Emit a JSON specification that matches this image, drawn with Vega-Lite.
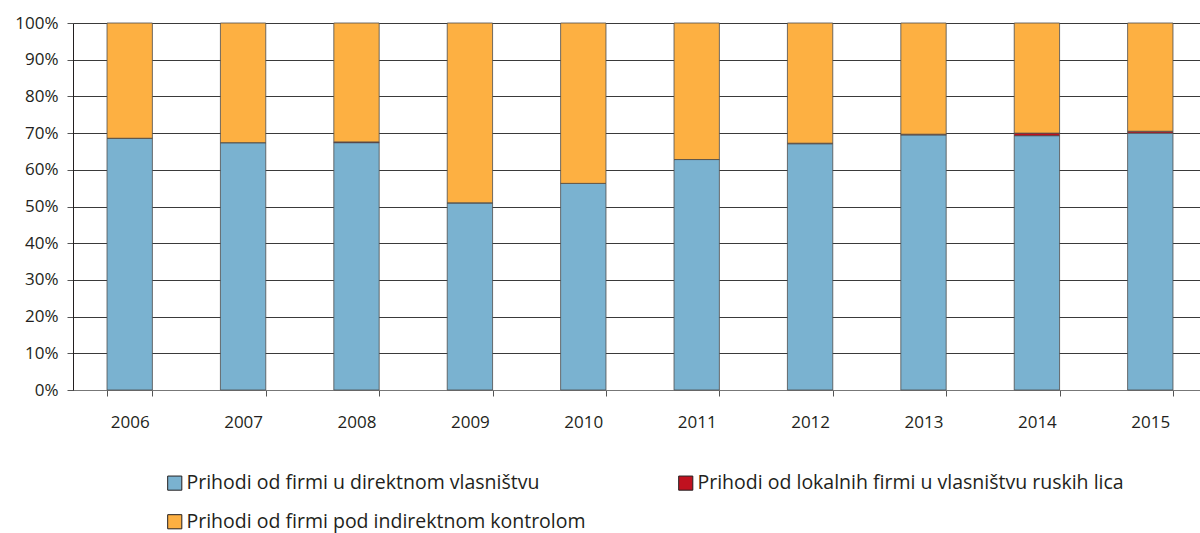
{
  "$schema": "https://vega.github.io/schema/vega-lite/v6.json",
  "width": 1134,
  "height": 367,
  "autosize": {"type": "none"},
  "padding": {"left": 73, "top": 23, "right": 0, "bottom": 143},
  "background": "white",
  "config": {
    "view": {"stroke": null},
    "font": "Open Sans",
    "axis": {"labelFont": "Open Sans", "labelFontSize": 17, "labelColor": "#231f20"},
    "legend": {"labelFont": "Open Sans", "labelFontSize": 19.5, "labelColor": "#231f20"}
  },
  "data": {
    "values": [
      {"year": "2006", "series": "Prihodi od firmi u direktnom vlasništvu", "o": 1, "v": 68.6},
      {"year": "2006", "series": "Prihodi od lokalnih firmi u vlasništvu ruskih lica", "o": 2, "v": 0.0},
      {"year": "2006", "series": "Prihodi od firmi pod indirektnom kontrolom", "o": 3, "v": 31.4},
      {"year": "2007", "series": "Prihodi od firmi u direktnom vlasništvu", "o": 1, "v": 67.4},
      {"year": "2007", "series": "Prihodi od lokalnih firmi u vlasništvu ruskih lica", "o": 2, "v": 0.0},
      {"year": "2007", "series": "Prihodi od firmi pod indirektnom kontrolom", "o": 3, "v": 32.6},
      {"year": "2008", "series": "Prihodi od firmi u direktnom vlasništvu", "o": 1, "v": 67.4},
      {"year": "2008", "series": "Prihodi od lokalnih firmi u vlasništvu ruskih lica", "o": 2, "v": 0.2},
      {"year": "2008", "series": "Prihodi od firmi pod indirektnom kontrolom", "o": 3, "v": 32.4},
      {"year": "2009", "series": "Prihodi od firmi u direktnom vlasništvu", "o": 1, "v": 51.0},
      {"year": "2009", "series": "Prihodi od lokalnih firmi u vlasništvu ruskih lica", "o": 2, "v": 0.0},
      {"year": "2009", "series": "Prihodi od firmi pod indirektnom kontrolom", "o": 3, "v": 49.0},
      {"year": "2010", "series": "Prihodi od firmi u direktnom vlasništvu", "o": 1, "v": 56.3},
      {"year": "2010", "series": "Prihodi od lokalnih firmi u vlasništvu ruskih lica", "o": 2, "v": 0.0},
      {"year": "2010", "series": "Prihodi od firmi pod indirektnom kontrolom", "o": 3, "v": 43.7},
      {"year": "2011", "series": "Prihodi od firmi u direktnom vlasništvu", "o": 1, "v": 62.8},
      {"year": "2011", "series": "Prihodi od lokalnih firmi u vlasništvu ruskih lica", "o": 2, "v": 0.0},
      {"year": "2011", "series": "Prihodi od firmi pod indirektnom kontrolom", "o": 3, "v": 37.2},
      {"year": "2012", "series": "Prihodi od firmi u direktnom vlasništvu", "o": 1, "v": 67.1},
      {"year": "2012", "series": "Prihodi od lokalnih firmi u vlasništvu ruskih lica", "o": 2, "v": 0.15},
      {"year": "2012", "series": "Prihodi od firmi pod indirektnom kontrolom", "o": 3, "v": 32.75},
      {"year": "2013", "series": "Prihodi od firmi u direktnom vlasništvu", "o": 1, "v": 69.5},
      {"year": "2013", "series": "Prihodi od lokalnih firmi u vlasništvu ruskih lica", "o": 2, "v": 0.2},
      {"year": "2013", "series": "Prihodi od firmi pod indirektnom kontrolom", "o": 3, "v": 30.3},
      {"year": "2014", "series": "Prihodi od firmi u direktnom vlasništvu", "o": 1, "v": 69.3},
      {"year": "2014", "series": "Prihodi od lokalnih firmi u vlasništvu ruskih lica", "o": 2, "v": 0.7},
      {"year": "2014", "series": "Prihodi od firmi pod indirektnom kontrolom", "o": 3, "v": 30.0},
      {"year": "2015", "series": "Prihodi od firmi u direktnom vlasništvu", "o": 1, "v": 70.0},
      {"year": "2015", "series": "Prihodi od lokalnih firmi u vlasništvu ruskih lica", "o": 2, "v": 0.5},
      {"year": "2015", "series": "Prihodi od firmi pod indirektnom kontrolom", "o": 3, "v": 29.5}
    ]
  },
  "mark": {"type": "bar", "stroke": "#4d4d4d", "strokeWidth": 1, "strokeOpacity": 0.8},
  "encoding": {
    "x": {
      "field": "year", "type": "ordinal",
      "scale": {"paddingInner": 0.6, "paddingOuter": 0.3},
      "axis": {
        "title": null, "labelAngle": 0, "labelPadding": 18,
        "tickBand": "extent", "tickSize": 6, "tickColor": "#555",
        "domainColor": "#777", "grid": false
      }
    },
    "y": {
      "field": "v", "type": "quantitative", "stack": "zero",
      "scale": {"domain": [0, 100], "nice": false},
      "axis": {
        "title": null, "values": [0,10,20,30,40,50,60,70,80,90,100],
        "labelExpr": "datum.value + '%'", "tickSize": 6, "tickColor": "#555",
        "labelPadding": 9, "domainColor": "#231f20",
        "grid": true, "gridColor": "#3a3a3a", "gridWidth": 1
      }
    },
    "color": {
      "field": "series", "type": "nominal",
      "scale": {
        "domain": ["Prihodi od firmi u direktnom vlasništvu", "Prihodi od lokalnih firmi u vlasništvu ruskih lica", "Prihodi od firmi pod indirektnom kontrolom"],
        "range": ["#7ab2d0", "#c0111f", "#fdb042"]
      },
      "legend": {
        "title": null, "orient": "none", "legendX": 92, "legendY": 450,
        "columns": 2, "direction": "horizontal",
        "symbolType": "square", "symbolSize": 200, "symbolStrokeColor": "#231f20", "symbolStrokeWidth": 1,
        "labelOffset": 2, "columnPadding": 90, "rowPadding": 18, "labelLimit": 700
      }
    },
    "order": {"field": "o", "type": "quantitative"}
  }
}
